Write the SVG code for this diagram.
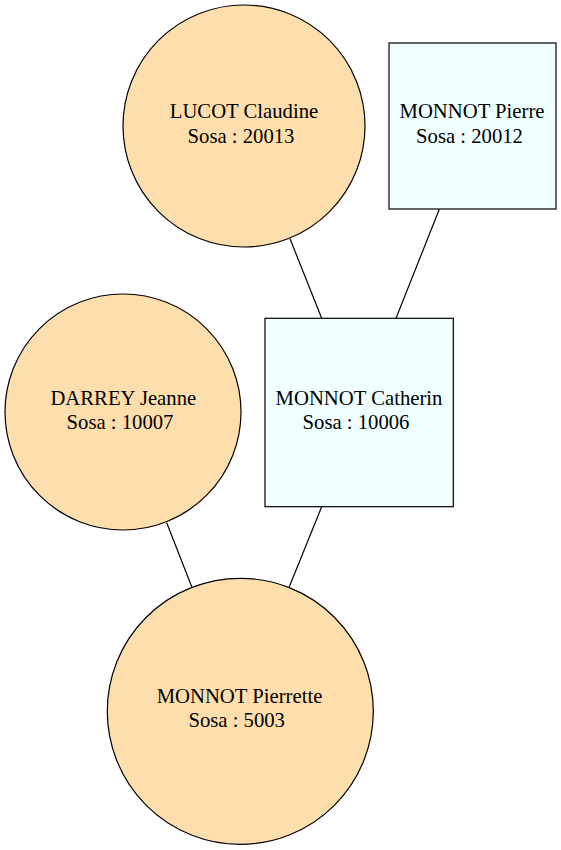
<svg xmlns="http://www.w3.org/2000/svg" width="561" height="850" viewBox="0 0 561 850">
<style>
.f{fill:#ffdead;stroke:#000;stroke-width:1.2}
.m{fill:#f0ffff;stroke:#000;stroke-width:1.2}
.e{stroke:#000;stroke-width:1.2;fill:none}
.t{font-family:'Liberation Serif','Times New Roman',serif;font-size:20.7px;text-anchor:middle;fill:#000}
</style>
<rect width="561" height="850" fill="#fff"/>
<g id="edges">
<line class="e" x1="290" y1="238.7" x2="321.7" y2="318.3"/>
<line class="e" x1="439.3" y1="209.3" x2="396" y2="318.3"/>
<line class="e" x1="166.7" y1="522.7" x2="191.7" y2="586.7"/>
<line class="e" x1="321.7" y1="506.7" x2="289.3" y2="586.7"/>
</g>
<g id="lucot_claudine">
<circle class="f" cx="244" cy="126" r="121"/>
<text class="t" x="244" y="118">LUCOT Claudine</text>
<text class="t" x="241" y="142.5">Sosa : 20013</text>
</g>
<g id="monnot_pierre">
<rect class="m" x="389" y="43" width="167" height="166"/>
<text class="t" x="472" y="118">MONNOT Pierre</text>
<text class="t" x="469.5" y="142.5">Sosa : 20012</text>
</g>
<g id="darrey_jeanne">
<circle class="f" cx="123" cy="412" r="118"/>
<text class="t" x="123.3" y="405">DARREY Jeanne</text>
<text class="t" x="120" y="429">Sosa : 10007</text>
</g>
<g id="monnot_catherin">
<rect class="m" x="265" y="318.3" width="188.3" height="188.4"/>
<text class="t" x="359" y="405">MONNOT Catherin</text>
<text class="t" x="356" y="429">Sosa : 10006</text>
</g>
<g id="monnot_pierrette">
<circle class="f" cx="240.3" cy="711.3" r="133"/>
<text class="t" x="239.5" y="703.3">MONNOT Pierrette</text>
<text class="t" x="236.7" y="727">Sosa : 5003</text>
</g>
</svg>
